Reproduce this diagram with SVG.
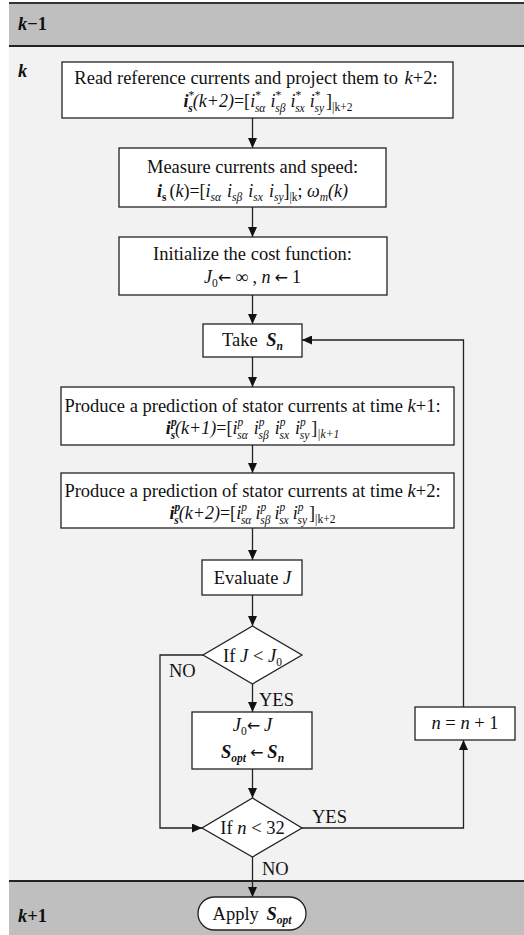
<svg xmlns="http://www.w3.org/2000/svg" width="524" height="935" viewBox="0 0 524 935">
<defs>
<marker id="ah" markerUnits="userSpaceOnUse" markerWidth="10" markerHeight="9" refX="10" refY="4.5" orient="auto">
<path d="M0,0 L10,4.5 L0,9 z" fill="#111"/>
</marker>
</defs>
<style>
.t{font-family:"Liberation Serif","Times New Roman",serif;font-size:18.5px;fill:#111}
.m{font-size:18px}
.i{font-style:italic}
.b{font-weight:bold}
.s{font-size:11.5px}
.ar{font-family:"DejaVu Sans",sans-serif;font-size:16px}
.box{fill:#fff;stroke:#222;stroke-width:1.3}
.con{fill:none;stroke:#222;stroke-width:1.3}
.arr{marker-end:url(#ah)}
</style>
<g id="bands">
<rect x="9" y="3" width="515" height="43" fill="#bfbfbf"/>
<rect x="9" y="46" width="515" height="835" fill="#f2f2f2"/>
<rect x="9" y="881" width="515" height="54" fill="#bfbfbf"/>
<line x1="9" y1="3" x2="524" y2="3" stroke="#333" stroke-width="2"/>
<line x1="9" y1="46" x2="524" y2="46" stroke="#222" stroke-width="2"/>
<line x1="9" y1="881" x2="524" y2="881" stroke="#222" stroke-width="2"/>
<text class="t b" x="18" y="30"><tspan class="i">k</tspan>−1</text>
<text class="t b i" x="18" y="77">k</text>
<text class="t b" x="18" y="922"><tspan class="i">k</tspan>+1</text>
</g>
<g id="connectors">
<path class="con arr" d="M252.5,118 V148"/>
<path class="con arr" d="M252.5,207 V237"/>
<path class="con arr" d="M252.5,295 V324"/>
<path class="con arr" d="M252.5,357 V387"/>
<path class="con arr" d="M252.5,445 V473"/>
<path class="con arr" d="M252.5,528 V560"/>
<path class="con arr" d="M252.5,595 V626"/>
<path class="con arr" d="M252.5,684 V712"/>
<path class="con arr" d="M252.5,769 V798"/>
<path class="con arr" d="M252.5,857 V897"/>
<path class="con arr" d="M302,828 H463.5 V740"/>
<path class="con arr" d="M463.5,707 V340 H302"/>
<path class="con arr" d="M203,655 H160 V828 H202"/>
<text class="t" x="169" y="677">NO</text>
<text class="t" x="259" y="706">YES</text>
<text class="t" x="312" y="823">YES</text>
<text class="t" x="262" y="875">NO</text>
</g>
<g id="read-ref">
<rect class="box" x="62" y="62" width="391" height="56"/>
<text class="t" x="256" y="84" text-anchor="middle">Read reference currents and project them to <tspan class="i" dx="2">k</tspan>+2:</text>
<text class="t m" x="268" y="107" text-anchor="middle"><tspan class="b i">i</tspan><tspan class="s" dy="-8">*</tspan><tspan class="s b i" dx="-6" dy="13">s</tspan><tspan class="i" dy="-5">(k+2)</tspan>=[<tspan class="i">i</tspan><tspan class="s" dy="-8">*</tspan><tspan class="s i" dx="-6" dy="13">sα</tspan><tspan class="i" dx="5" dy="-5">i</tspan><tspan class="s" dy="-8">*</tspan><tspan class="s i" dx="-6" dy="13">sβ</tspan><tspan class="i" dx="5" dy="-5">i</tspan><tspan class="s" dy="-8">*</tspan><tspan class="s i" dx="-6" dy="13">sx</tspan><tspan class="i" dx="5" dy="-5">i</tspan><tspan class="s" dy="-8">*</tspan><tspan class="s i" dx="-6" dy="13">sy</tspan><tspan dx="2" dy="-5">]</tspan><tspan class="s" dy="4">|k+2</tspan></text>
</g>
<g id="measure">
<rect class="box" x="119" y="148" width="267" height="59"/>
<text class="t" x="252.5" y="173" text-anchor="middle">Measure currents and speed:</text>
<text class="t m" x="252.5" y="197" text-anchor="middle"><tspan class="b i">i</tspan><tspan class="s b" dy="4">s</tspan><tspan dx="3" dy="-4">(</tspan><tspan class="i">k</tspan>)=[<tspan class="i">i</tspan><tspan class="s i" dy="4">sα</tspan><tspan class="i" dx="6" dy="-4">i</tspan><tspan class="s i" dy="4">sβ</tspan><tspan class="i" dx="6" dy="-4">i</tspan><tspan class="s i" dy="4">sx</tspan><tspan class="i" dx="6" dy="-4">i</tspan><tspan class="s i" dy="4">sy</tspan><tspan dy="-4">]</tspan><tspan class="s" dy="4">|k</tspan><tspan dy="-4">; </tspan><tspan class="i">ω</tspan><tspan class="s i" dy="4">m</tspan><tspan class="i" dy="-4">(k)</tspan></text>
</g>
<g id="init">
<rect class="box" x="119" y="237" width="268" height="58"/>
<text class="t" x="252.5" y="260" text-anchor="middle">Initialize the cost function:</text>
<text class="t m" x="252.5" y="283" text-anchor="middle"><tspan class="i">J</tspan><tspan class="s" dy="4">0</tspan><tspan class="ar" dy="-4">←</tspan><tspan dx="4">∞ , </tspan><tspan class="i">n</tspan><tspan class="ar" dx="4">←</tspan><tspan dx="4">1</tspan></text>
</g>
<g id="take">
<rect class="box" x="203" y="324" width="99" height="33"/>
<text class="t" x="252.5" y="346" text-anchor="middle">Take <tspan class="b i" dx="4">S</tspan><tspan class="s b i" dy="4">n</tspan></text>
</g>
<g id="pred1">
<rect class="box" x="61" y="387" width="393" height="58"/>
<text class="t" x="252.5" y="412" text-anchor="middle">Produce a prediction of stator currents at time <tspan class="i">k</tspan>+1:</text>
<text class="t m" x="252.5" y="434" text-anchor="middle"><tspan class="b i">i</tspan><tspan class="s b i" dy="-8">p</tspan><tspan class="s b i" dx="-6" dy="13">s</tspan><tspan class="i" dy="-5">(k+1)</tspan>=[<tspan class="i">i</tspan><tspan class="s i" dy="-8">p</tspan><tspan class="s i" dx="-6" dy="13">sα</tspan><tspan class="i" dx="6" dy="-5">i</tspan><tspan class="s i" dy="-8">p</tspan><tspan class="s i" dx="-6" dy="13">sβ</tspan><tspan class="i" dx="6" dy="-5">i</tspan><tspan class="s i" dy="-8">p</tspan><tspan class="s i" dx="-6" dy="13">sx</tspan><tspan class="i" dx="6" dy="-5">i</tspan><tspan class="s i" dy="-8">p</tspan><tspan class="s i" dx="-6" dy="13">sy</tspan><tspan dx="2" dy="-5">]</tspan><tspan class="s i" dy="4">|k+1</tspan></text>
</g>
<g id="pred2">
<rect class="box" x="61" y="473" width="393" height="55"/>
<text class="t" x="252.5" y="497" text-anchor="middle">Produce a prediction of stator currents at time <tspan class="i">k</tspan>+2:</text>
<text class="t m" x="252.5" y="519" text-anchor="middle"><tspan class="b i">i</tspan><tspan class="s b i" dy="-8">p</tspan><tspan class="s b i" dx="-6" dy="13">s</tspan><tspan class="i" dy="-5">(k+2)</tspan>=[<tspan class="i">i</tspan><tspan class="s i" dy="-8">p</tspan><tspan class="s i" dx="-6" dy="13">sα</tspan><tspan class="i" dx="4" dy="-5">i</tspan><tspan class="s i" dy="-8">p</tspan><tspan class="s i" dx="-6" dy="13">sβ</tspan><tspan class="i" dx="4" dy="-5">i</tspan><tspan class="s i" dy="-8">p</tspan><tspan class="s i" dx="-6" dy="13">sx</tspan><tspan class="i" dx="4" dy="-5">i</tspan><tspan class="s i" dy="-8">p</tspan><tspan class="s i" dx="-6" dy="13">sy</tspan><tspan dx="2" dy="-5">]</tspan><tspan class="s" dy="4">|k+2</tspan></text>
</g>
<g id="evaluate">
<rect class="box" x="202" y="560" width="100" height="35"/>
<text class="t" x="252.5" y="584" text-anchor="middle">Evaluate <tspan class="i">J</tspan></text>
</g>
<g id="if-j">
<polygon class="box" points="252.5,626 302,655 252.5,684 203,655"/>
<text class="t" x="252.5" y="662" text-anchor="middle">If <tspan class="i">J</tspan> &lt; <tspan class="i">J</tspan><tspan class="s" dy="4">0</tspan></text>
</g>
<g id="update">
<rect class="box" x="192" y="712" width="120" height="57"/>
<text class="t" x="252.5" y="731" text-anchor="middle"><tspan class="i">J</tspan><tspan class="s" dy="4">0</tspan><tspan class="ar" dy="-4">←</tspan><tspan class="i" dx="4">J</tspan></text>
<text class="t" x="252.5" y="758" text-anchor="middle"><tspan class="b i">S</tspan><tspan class="s b i" dy="4">opt</tspan><tspan class="ar" dx="4" dy="-4">←</tspan><tspan class="b i" dx="4">S</tspan><tspan class="s b i" dy="4">n</tspan></text>
</g>
<g id="if-n">
<polygon class="box" points="252.5,798 302,828 252.5,857 202,828"/>
<text class="t" x="252.5" y="834" text-anchor="middle">If <tspan class="i">n</tspan> &lt; 32</text>
</g>
<g id="increment">
<rect class="box" x="415" y="707" width="100" height="33"/>
<text class="t" x="465" y="729" text-anchor="middle"><tspan class="i">n</tspan> = <tspan class="i">n</tspan> + 1</text>
</g>
<g id="apply">
<rect class="box" x="198" y="897" width="108" height="33" rx="16.5" ry="16.5"/>
<text class="t" x="252" y="920" text-anchor="middle">Apply <tspan class="b i" dx="3">S</tspan><tspan class="s b i" dy="4">opt</tspan></text>
</g>
</svg>
